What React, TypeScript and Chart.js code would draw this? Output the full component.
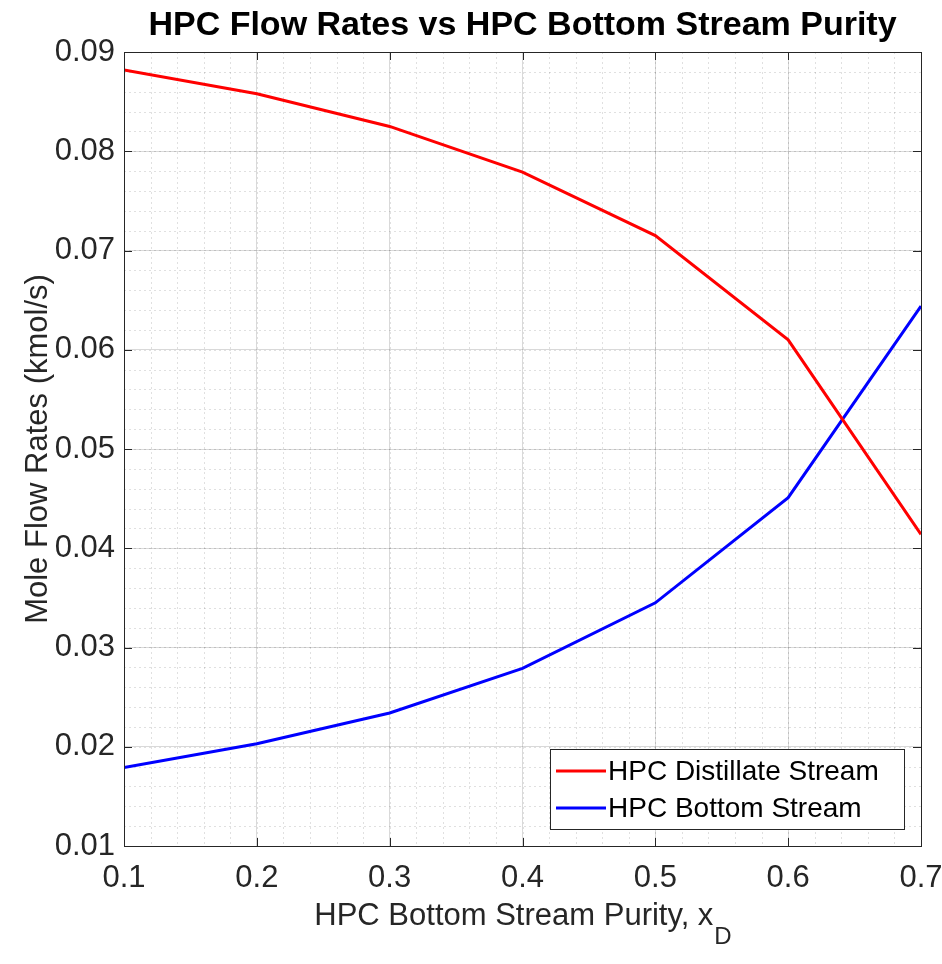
import React, { useEffect, useRef } from "react";
import { Chart, registerables } from "chart.js";
Chart.register(...registerables);

const purity = [0.1, 0.2, 0.3, 0.4, 0.5, 0.6, 0.7];
const distillate = [0.0882, 0.0858, 0.0825, 0.0779, 0.0715, 0.061, 0.0414];
const bottom = [0.0179, 0.0203, 0.0234, 0.0279, 0.0345, 0.0451, 0.0644];
const seriesNames = ["HPC Distillate Stream", "HPC Bottom Stream"];
const titleText = "HPC Flow Rates vs HPC Bottom Stream Purity";
const xTitleMain = "HPC Bottom Stream Purity, x";
const xTitleSub = "D";

const FONT = "'Liberation Sans', Arial, sans-serif";

const decor = {
  id: "decor",
  beforeDatasetsDraw(chart: any) {
    const { ctx, chartArea: a, scales } = chart;
    const x = scales.x, y = scales.y;
    ctx.save();
    ctx.strokeStyle = "rgba(0,0,0,0.12)";
    ctx.lineWidth = 1;
    ctx.setLineDash([2, 3]);
    for (let v = 0.1; v < 0.7001; v += 0.02) {
      const p = Math.round(x.getPixelForValue(v)) + 0.5;
      ctx.beginPath(); ctx.moveTo(p, a.top); ctx.lineTo(p, a.bottom); ctx.stroke();
    }
    for (let v = 0.01; v < 0.0901; v += 0.002) {
      const p = Math.round(y.getPixelForValue(v)) + 0.5;
      ctx.beginPath(); ctx.moveTo(a.left, p); ctx.lineTo(a.right, p); ctx.stroke();
    }
    ctx.restore();
  },
  afterDraw(chart: any) {
    const { ctx, chartArea: a, scales } = chart;
    ctx.save();
    ctx.strokeStyle = "#262626";
    ctx.lineWidth = 1;
    ctx.strokeRect(a.left + 0.5, a.top + 0.5, a.right - a.left, a.bottom - a.top);
    for (const v of purity) {
      const p = Math.round(scales.x.getPixelForValue(v)) + 0.5;
      ctx.beginPath(); ctx.moveTo(p, a.bottom); ctx.lineTo(p, a.bottom - 8);
      ctx.moveTo(p, a.top); ctx.lineTo(p, a.top + 8); ctx.stroke();
    }
    for (let v = 0.01; v < 0.0901; v += 0.01) {
      const p = Math.round(scales.y.getPixelForValue(v)) + 0.5;
      ctx.beginPath(); ctx.moveTo(a.left, p); ctx.lineTo(a.left + 8, p);
      ctx.moveTo(a.right, p); ctx.lineTo(a.right - 8, p); ctx.stroke();
    }
    // title
    ctx.fillStyle = "#000";
    ctx.font = `bold 34px ${FONT}`;
    ctx.textAlign = "center";
    ctx.textBaseline = "middle";
    ctx.fillText(titleText, (a.left + a.right) / 2, 26);
    // x title with subscript
    ctx.fillStyle = "#262626";
    ctx.font = `31px ${FONT}`;
    ctx.textBaseline = "alphabetic";
    ctx.textAlign = "left";
    const w1 = ctx.measureText(xTitleMain).width;
    ctx.font = `24px ${FONT}`;
    const w2 = ctx.measureText(xTitleSub).width;
    const sx = (a.left + a.right) / 2 - (w1 + w2) / 2;
    ctx.font = `31px ${FONT}`;
    ctx.fillText(xTitleMain, sx, 925);
    ctx.font = `24px ${FONT}`;
    ctx.fillText(xTitleSub, sx + w1 + 1, 944);
    // y title
    ctx.save();
    ctx.translate(38, (a.top + a.bottom) / 2);
    ctx.rotate(-Math.PI / 2);
    ctx.font = `31px ${FONT}`;
    ctx.textAlign = "center";
    ctx.textBaseline = "middle";
    ctx.fillText("Mole Flow Rates (kmol/s)", 0, 0);
    ctx.restore();
    // legend
    const lx = 550, ly = 749, lw = 354, lh = 80;
    ctx.fillStyle = "#fff";
    ctx.fillRect(lx, ly, lw, lh);
    ctx.strokeStyle = "#262626";
    ctx.lineWidth = 1;
    ctx.strokeRect(lx + 0.5, ly + 0.5, lw, lh);
    ctx.font = `28px ${FONT}`;
    ctx.textAlign = "left";
    ctx.textBaseline = "middle";
    chart.data.datasets.forEach((d: any, i: number) => {
      const cy = ly + 22 + i * 37;
      ctx.strokeStyle = d.borderColor;
      ctx.lineWidth = 3;
      ctx.beginPath(); ctx.moveTo(lx + 6, cy); ctx.lineTo(lx + 56, cy); ctx.stroke();
      ctx.fillStyle = "#000";
      ctx.fillText(d.label, lx + 58, cy + 1);
    });
    ctx.restore();
  },
};

export default function App() {
  const ref = useRef<HTMLCanvasElement>(null);
  useEffect(() => {
    const chart = new Chart(ref.current!, {
      type: "line",
      data: {
        datasets: [
          { label: seriesNames[0], data: purity.map((p, i) => ({ x: p, y: distillate[i] })), borderColor: "#ff0000", borderWidth: 3, pointRadius: 0, tension: 0 },
          { label: seriesNames[1], data: purity.map((p, i) => ({ x: p, y: bottom[i] })), borderColor: "#0000ff", borderWidth: 3, pointRadius: 0, tension: 0 },
        ],
      },
      options: {
        animation: false,
        responsive: false,
        devicePixelRatio: 1,
        layout: { padding: { top: 52, right: 21, left: 0, bottom: 0 } },
        plugins: { legend: { display: false }, tooltip: { enabled: false } },
        scales: {
          x: {
            type: "linear", min: 0.1, max: 0.7,
            afterFit: (s: any) => { s.height = 118; s.paddingLeft = 0; s.paddingRight = 0; },
            border: { display: false },
            grid: { color: "rgba(0,0,0,0.15)", drawTicks: false },
            ticks: { stepSize: 0.1, padding: 14, color: "#262626", font: { family: FONT, size: 31 }, callback: (v: any) => Number(v).toFixed(1) },
          },
          y: {
            type: "linear", min: 0.01, max: 0.09,
            afterFit: (s: any) => { s.width = 124; s.paddingTop = 0; s.paddingBottom = 0; },
            border: { display: false },
            grid: { color: "rgba(0,0,0,0.15)", drawTicks: false },
            ticks: { stepSize: 0.01, padding: 9, color: "#262626", font: { family: FONT, size: 31 }, callback: (v: any) => Number(v).toFixed(2) },
          },
        },
      },
      plugins: [decor],
    } as any);
    return () => chart.destroy();
  }, []);
  return (
    <div style={{ position: "fixed", left: 0, top: 0, width: 942, height: 964, background: "#fff" }}>
      <canvas ref={ref} width={942} height={964} style={{ width: 942, height: 964 }} />
    </div>
  );
}
